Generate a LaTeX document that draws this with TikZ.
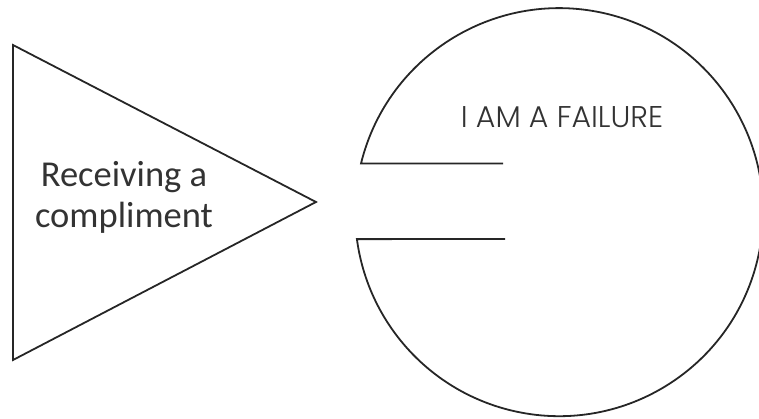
\documentclass[tikz,border=0pt]{standalone}
\usepackage{fontspec}
\newfontfamily\calib{Carlito}
\newfontfamily\geo{Poppins}[UprightFont=* Light]
\begin{document}
\begin{tikzpicture}[x=1pt,y=-1pt,
  shape line/.style={draw=black!85, line width=1.8pt, line join=miter},
  cue/.style={font=\calib\fontsize{36.5}{41}\selectfont, text=black!80, align=center, inner sep=0pt},
  belief/.style={font=\geo\fontsize{30}{34}\selectfont, text=black!80, inner sep=0pt}]
\useasboundingbox (0,0) rectangle (759,419);
% triangle
\coordinate (t1) at (13,45);
\coordinate (t2) at (13,360);
\coordinate (t3) at (316,202);
\draw[shape line] (t1) -- (t3) -- (t2) -- cycle;
\node[cue] (cue) at (124,197) {Receiving a\\compliment};
% broken circle
\coordinate (c) at (559,212);
\coordinate (ua) at (361,163.5);
\coordinate (ub) at (503,163.5);
\coordinate (la) at (357,239);
\coordinate (lb) at (505,239);
\draw[shape line] (ub) -- (ua) arc[start angle=193.8, end angle=532.4, radius=204] -- (lb);
\node[belief] (fail) at (562,117) {I AM A FAILURE};
\end{tikzpicture}
\end{document}
